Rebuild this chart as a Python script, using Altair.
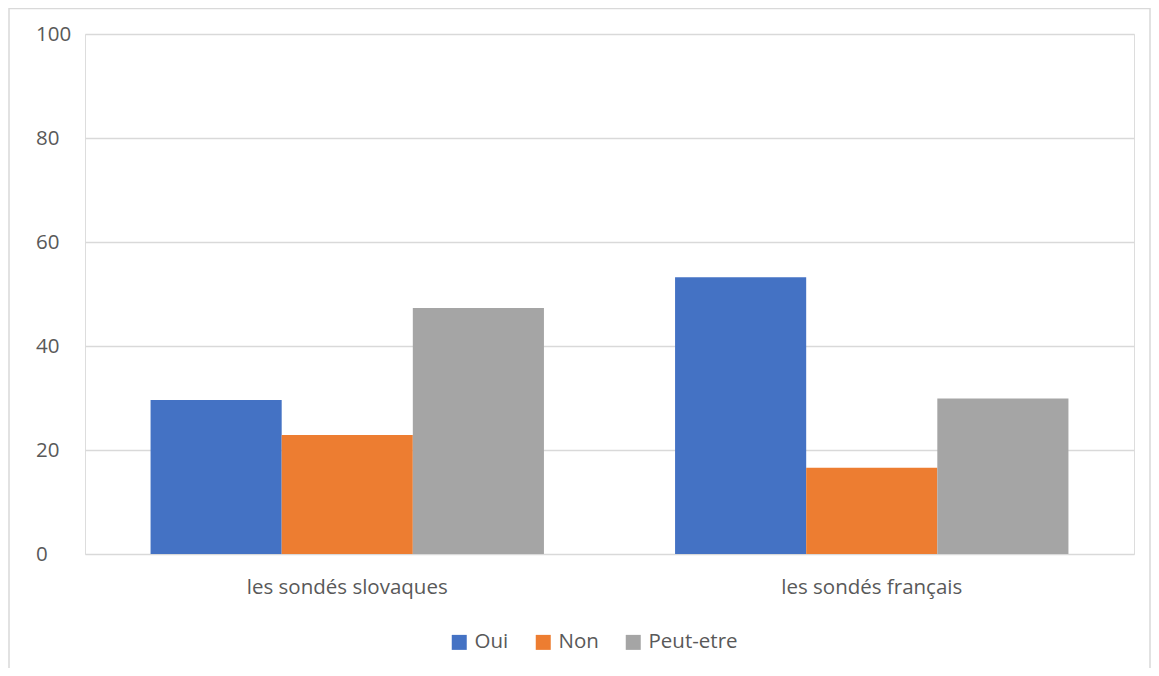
import altair as alt
import pandas as pd

categories = ["les sondés slovaques", "les sondés français"]
series = ["Oui", "Non", "Peut-etre"]
oui = [29.6, 53.2]
non = [22.9, 16.6]
peut_etre = [47.3, 29.9]
colors = ["#4472C4", "#ED7D31", "#A5A5A5"]
y_ticks = [0, 20, 40, 60, 80, 100]

rows = []
for i, cat in enumerate(categories):
    for s, vals in zip(series, [oui, non, peut_etre]):
        rows.append({"groupe": cat, "reponse": s, "valeur": vals[i]})
df = pd.DataFrame(rows)

FONT = "Open Sans"
TXT = "#595959"
FS = 20.5

bars = alt.Chart(df).mark_bar().encode(
    x=alt.X(
        "groupe:N",
        sort=categories,
        scale=alt.Scale(paddingInner=0, paddingOuter=0),
        axis=alt.Axis(
            title=None, labelAngle=0, ticks=False, domain=False,
            labelFontSize=FS, labelColor=TXT, labelPadding=23, labelFont=FONT,
            labelLimit=0,
        ),
    ),
    xOffset=alt.XOffset("reponse:N", sort=series,
                        scale=alt.Scale(paddingInner=0, paddingOuter=0.5)),
    y=alt.Y(
        "valeur:Q",
        scale=alt.Scale(domain=[0, 100], nice=False),
        axis=alt.Axis(
            title=None, values=y_ticks, grid=True, gridColor="#d9d9d9",
            gridWidth=1.5, domain=False, ticks=False, tickSize=0,
            labelAlign="left", labelPadding=49.5, labelFontSize=FS,
            labelColor=TXT, labelFont=FONT,
        ),
    ),
    color=alt.Color(
        "reponse:N",
        sort=series,
        scale=alt.Scale(domain=series, range=colors),
        legend=alt.Legend(
            orient="none", legendX=364, legendY=598, direction="horizontal",
            title=None, symbolType="square", symbolSize=225,
            symbolStrokeWidth=0, labelFontSize=FS, labelColor=TXT,
            labelFont=FONT, columnPadding=24, labelOffset=5,
        ),
    ),
)

border = alt.Chart(pd.DataFrame({"a": [0]})).mark_rect(
    fill="transparent", stroke="#d9d9d9", strokeWidth=1.5
).encode(
    x=alt.value(-76), x2=alt.value(1065), y=alt.value(-25.5), y2=alt.value(720)
)

chart = alt.layer(border, bars).properties(
    width=1049,
    height=520,
    autosize=alt.AutoSizeParams(type="none"),
    padding={"left": 77, "top": 26, "right": 17, "bottom": 114},
).configure_view(strokeWidth=0).configure(font=FONT)

chart.save("out.html", embed_options={"renderer": "svg", "actions": False})
